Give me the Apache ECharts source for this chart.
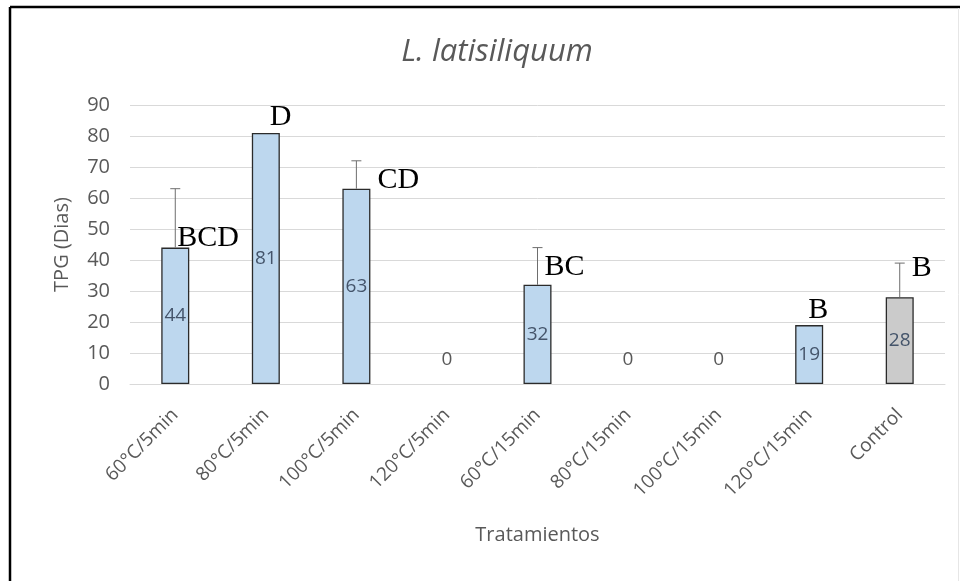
<!DOCTYPE html>
<html>
<head>
<meta charset="utf-8">
<script src="https://cdn.jsdelivr.net/npm/echarts@6/dist/echarts.min.js"></script>
<style>
  html, body { margin: 0; padding: 0; background: #ffffff; }
  #chart { width: 960px; height: 581px; }
</style>
</head>
<body>
<div id="chart"></div>
<script>
// Treatments on the category axis
const categories = ['60°C/5min', '80°C/5min', '100°C/5min', '120°C/5min',
  '60°C/15min', '80°C/15min', '100°C/15min', '120°C/15min', 'Control'];
// Mean TPG (days) per treatment
const tpgValues = [44, 81, 63, 0, 32, 0, 0, 19, 28];
// Upper error (days) per treatment
const tpgErrors = [19, 0, 9, 0, 12, 0, 0, 0, 11];
// Significance groups
const groupLetters = ['BCD', 'D', 'CD', '', 'BC', '', '', 'B', 'B'];
// Pixel nudges for the group letters [dx, dy] relative to each bar top
const letterNudge = [[2, -9], [4, -16], [21, -9], [0, 0], [7, -18], [0, 0], [0, 0], [-1, -15], [12, -29]];
// Y axis ticks
const yTicks = { min: 0, max: 90, interval: 10 };

const TEXT = '#595959';
const FONT = '"Open Sans", sans-serif';

const barData = tpgValues.map((v, i) => {
  const isControl = categories[i] === 'Control';
  const item = {
    value: v,
    itemStyle: { color: isControl ? '#cbcbcb' : '#bdd7ee' }
  };
  if (v === 0) {
    // empty treatment: no outline, value printed just above the axis
    item.itemStyle.borderWidth = 0;
    item.label = { position: 'top', distance: 15, color: TEXT };
  }
  return item;
});

const chart = echarts.init(document.getElementById('chart'), null, { renderer: 'canvas' });

chart.setOption({
  backgroundColor: '#ffffff',
  animation: false,
  title: {
    text: 'L. latisiliquum',
    left: 492,
    top: 32,
    textAlign: 'center',
    textStyle: { fontFamily: FONT, fontStyle: 'italic', fontWeight: 'normal', fontSize: 31, color: TEXT }
  },
  grid: { left: 130, right: 15, top: 105, bottom: 197 },
  xAxis: {
    type: 'category',
    data: categories,
    name: 'Tratamientos',
    nameLocation: 'middle',
    nameGap: 141,
    nameTextStyle: { fontFamily: FONT, fontSize: 20, color: TEXT },
    axisLine: { lineStyle: { color: '#d9d9d9', width: 1 } },
    axisTick: { show: false },
    axisLabel: { rotate: 45, margin: 28, fontFamily: FONT, fontSize: 19, color: TEXT, interval: 0 }
  },
  yAxis: {
    type: 'value',
    min: yTicks.min,
    max: yTicks.max,
    interval: yTicks.interval,
    name: 'TPG (Dias)',
    nameLocation: 'middle',
    nameGap: 58,
    nameTextStyle: { fontFamily: FONT, fontSize: 20, color: TEXT },
    axisLine: { show: false },
    axisTick: { show: false },
    axisLabel: { margin: 20, fontFamily: FONT, fontSize: 20, color: TEXT },
    splitLine: { lineStyle: { color: '#d9d9d9', width: 1 } }
  },
  series: [
    {
      name: 'TPG',
      type: 'bar',
      data: barData,
      barWidth: 28,
      itemStyle: { borderColor: '#2b2b2b', borderWidth: 1.3 },
      label: {
        show: true,
        position: 'inside',
        fontFamily: FONT,
        fontSize: 19,
        color: '#44546a'
      },
      z: 2
    },
    {
      name: 'Error',
      type: 'custom',
      data: tpgValues.map((v, i) => [i, v, tpgErrors[i]]),
      renderItem: function (params, api) {
        const err = api.value(2);
        if (!err) return null;
        const base = api.coord([api.value(0), api.value(1)]);
        const top = api.coord([api.value(0), api.value(1) + err]);
        const half = 5;
        return {
          type: 'group',
          children: [
            { type: 'line', shape: { x1: base[0], y1: base[1], x2: top[0], y2: top[1] },
              style: { stroke: '#6e6e6e', lineWidth: 1 } },
            { type: 'line', shape: { x1: top[0] - half, y1: top[1], x2: top[0] + half, y2: top[1] },
              style: { stroke: '#6e6e6e', lineWidth: 1 } }
          ]
        };
      },
      z: 3
    },
    {
      name: 'Grupos',
      type: 'custom',
      data: tpgValues.map((v, i) => [i, v]),
      renderItem: function (params, api) {
        const i = params.dataIndex;
        const txt = groupLetters[i];
        if (!txt) return null;
        const p = api.coord([api.value(0), api.value(1)]);
        return {
          type: 'text',
          x: p[0] + letterNudge[i][0],
          y: p[1] + letterNudge[i][1],
          style: {
            text: txt,
            fill: '#000000',
            font: '30px "Liberation Serif", "Times New Roman", serif',
            textAlign: 'left',
            textVerticalAlign: 'middle'
          }
        };
      },
      z: 4
    }
  ],
  graphic: [
    { type: 'line', shape: { x1: 10, y1: 7, x2: 960, y2: 7 }, style: { stroke: '#000000', lineWidth: 2.5 }, z: 10 },
    { type: 'line', shape: { x1: 10, y1: 7, x2: 10, y2: 581 }, style: { stroke: '#000000', lineWidth: 2.5 }, z: 10 },
    { type: 'line', shape: { x1: 958.5, y1: 8, x2: 958.5, y2: 581 }, style: { stroke: '#e6e6e6', lineWidth: 1 }, z: 10 }
  ]
});
</script>
</body>
</html>
